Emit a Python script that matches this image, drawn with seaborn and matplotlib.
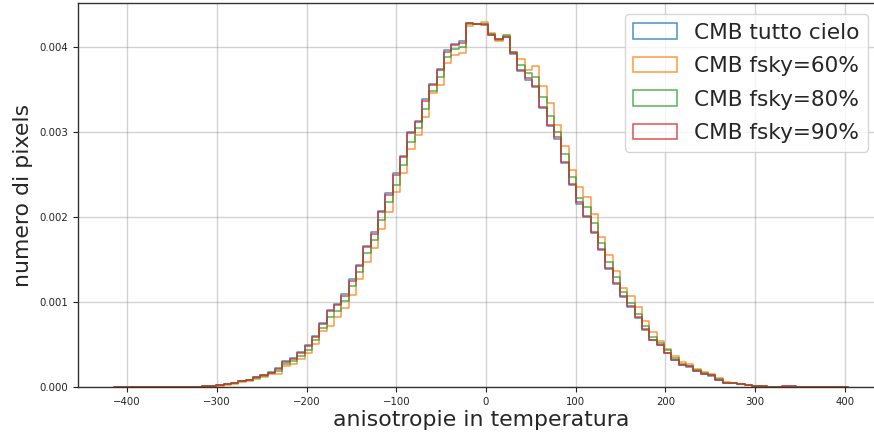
import numpy as np
import pandas as pd
import matplotlib
matplotlib.use("Agg")
import matplotlib.pyplot as plt
from matplotlib.patches import Patch
import seaborn as sns

# bin layout (100 bins)
bin_start = -415.0
bin_width = 8.18
n_bins = 100

labels = ["CMB tutto cielo", "CMB fsky=60%", "CMB fsky=80%", "CMB fsky=90%"]
colors = ["#1f77b4", "#ff7f0e", "#2ca02c", "#d62728"]

full_sky = [
    0, 0, 0, 0, 0.000001, 0.000001, 0.000001, 0.000001, 0.000002, 0.000002,
    0.000003, 0.000005, 0.000008, 0.000012, 0.000021, 0.000033, 0.000052, 0.000073, 0.000085, 0.000122,
    0.000141, 0.000174, 0.000218, 0.000301, 0.000338, 0.000410, 0.000490, 0.000595, 0.000752, 0.000902,
    0.000975, 0.001090, 0.001268, 0.001440, 0.001662, 0.001820, 0.002075, 0.002280, 0.002515, 0.002722,
    0.003005, 0.003135, 0.003390, 0.003572, 0.003750, 0.003965, 0.004045, 0.004075, 0.004290, 0.004280,
    0.004270, 0.004145, 0.004090, 0.004120, 0.003920, 0.003720, 0.003620, 0.003530, 0.003285, 0.003070,
    0.002925, 0.002640, 0.002378, 0.002160, 0.002005, 0.001810, 0.001610, 0.001395, 0.001218, 0.001062,
    0.000945, 0.000812, 0.000670, 0.000550, 0.000492, 0.000398, 0.000317, 0.000259, 0.000240, 0.000185,
    0.000155, 0.000135, 0.000085, 0.000050, 0.000046, 0.000038, 0.000024, 0.000012, 0.000008, 0.000004,
    0.000002, 0.000006, 0.000006, 0, 0, 0, 0, 0, 0, 0,
]

fsky_60 = [
    0, 0, 0, 0, 0, 0, 0.000001, 0.000001, 0.000002, 0.000002,
    0.000003, 0.000004, 0.000006, 0.000010, 0.000015, 0.000025, 0.000040, 0.000060, 0.000070, 0.000100,
    0.000120, 0.000150, 0.000158, 0.000249, 0.000269, 0.000328, 0.000395, 0.000506, 0.000656, 0.000723,
    0.000820, 0.000930, 0.001080, 0.001270, 0.001468, 0.001633, 0.001856, 0.002064, 0.002300, 0.002516,
    0.002799, 0.002967, 0.003183, 0.003458, 0.003556, 0.003812, 0.003910, 0.003937, 0.004255, 0.004275,
    0.004302, 0.004173, 0.004080, 0.004133, 0.003941, 0.003859, 0.003733, 0.003784, 0.003545, 0.003340,
    0.003085, 0.002842, 0.002555, 0.002359, 0.002233, 0.002037, 0.001770, 0.001554, 0.001366, 0.001169,
    0.001071, 0.000941, 0.000776, 0.000647, 0.000541, 0.000451, 0.000361, 0.000294, 0.000267, 0.000216,
    0.000176, 0.000157, 0.000106, 0.000055, 0.000050, 0.000040, 0.000026, 0.000013, 0.000008, 0.000004,
    0.000002, 0.000004, 0.000004, 0, 0, 0, 0, 0, 0, 0,
]

fsky_80 = [
    0, 0, 0, 0, 0.000001, 0.000001, 0.000001, 0.000001, 0.000002, 0.000002,
    0.000003, 0.000005, 0.000007, 0.000011, 0.000018, 0.000030, 0.000047, 0.000066, 0.000078, 0.000110,
    0.000130, 0.000160, 0.000190, 0.000270, 0.000310, 0.000370, 0.000440, 0.000550, 0.000700, 0.000820,
    0.000900, 0.001010, 0.001190, 0.001360, 0.001580, 0.001730, 0.001970, 0.002180, 0.002380, 0.002620,
    0.002890, 0.003050, 0.003280, 0.003490, 0.003650, 0.003890, 0.003980, 0.004000, 0.004270, 0.004270,
    0.004280, 0.004160, 0.004100, 0.004145, 0.003940, 0.003792, 0.003702, 0.003647, 0.003411, 0.003191,
    0.002999, 0.002744, 0.002477, 0.002221, 0.002115, 0.001927, 0.001691, 0.001468, 0.001299, 0.001114,
    0.000993, 0.000860, 0.000714, 0.000588, 0.000522, 0.000431, 0.000345, 0.000275, 0.000251, 0.000200,
    0.000165, 0.000146, 0.000095, 0.000053, 0.000048, 0.000040, 0.000025, 0.000012, 0.000008, 0.000004,
    0.000002, 0.000005, 0.000005, 0, 0, 0, 0, 0, 0, 0,
]

fsky_90 = [
    0, 0, 0, 0, 0.000001, 0.000001, 0.000001, 0.000001, 0.000002, 0.000002,
    0.000003, 0.000005, 0.000008, 0.000012, 0.000020, 0.000032, 0.000051, 0.000071, 0.000083, 0.000119,
    0.000138, 0.000170, 0.000213, 0.000296, 0.000332, 0.000403, 0.000482, 0.000585, 0.000743, 0.000893,
    0.000962, 0.001075, 0.001252, 0.001424, 0.001644, 0.001801, 0.002057, 0.002261, 0.002496, 0.002704,
    0.002987, 0.003117, 0.003372, 0.003556, 0.003733, 0.003949, 0.004024, 0.004047, 0.004283, 0.004275,
    0.004267, 0.004145, 0.004094, 0.004126, 0.003929, 0.003733, 0.003635, 0.003545, 0.003301, 0.003085,
    0.002940, 0.002653, 0.002390, 0.002174, 0.002017, 0.001821, 0.001620, 0.001405, 0.001228, 0.001071,
    0.000953, 0.000820, 0.000678, 0.000557, 0.000498, 0.000404, 0.000322, 0.000263, 0.000243, 0.000188,
    0.000157, 0.000137, 0.000086, 0.000051, 0.000047, 0.000039, 0.000024, 0.000012, 0.000008, 0.000004,
    0.000002, 0.000006, 0.000006, 0, 0, 0, 0, 0, 0, 0,
]

series = [full_sky, fsky_60, fsky_80, fsky_90]

bin_end = bin_start + bin_width * n_bins
centers = bin_start + bin_width * (np.arange(n_bins) + 0.5)

sns.set_style("ticks")
plt.rcParams["font.family"] = ["DejaVu Sans"]

W, H = 874, 437
fig, ax = plt.subplots(figsize=(W / 100, H / 100), dpi=100)
fig.subplots_adjust(left=78 / W, right=884 / W, top=1 - 3 / H, bottom=1 - 387 / H)

for vals, col in zip(series, colors):
    df = pd.DataFrame({"t": centers, "w": vals})
    sns.histplot(data=df, x="t", weights="w", bins=n_bins, binrange=(bin_start, bin_end),
                 element="step", fill=False, stat="count", color=col, alpha=0.8,
                 linewidth=1.1, ax=ax)

ax.set_xlim(-454.8, 443.6)
ax.set_ylim(0, 0.004523)
ax.set_xticks([-400, -300, -200, -100, 0, 100, 200, 300, 400])
ax.set_yticks([0, 0.001, 0.002, 0.003, 0.004])
ax.yaxis.set_major_formatter(matplotlib.ticker.FormatStrFormatter("%.3f"))
ax.tick_params(labelsize=7.3, length=3.5, width=0.8, colors="#222222")
ax.grid(True, color="gray", alpha=0.35, linewidth=1.0)
for s in ax.spines.values():
    s.set_color("#333333")
    s.set_linewidth(1.0)

ax.set_xlabel("anisotropie in temperatura", fontsize=15.8, labelpad=2)
ax.set_ylabel("numero di pixels", fontsize=15.8, labelpad=5)

handles = [Patch(facecolor="none", edgecolor=c, alpha=0.8, linewidth=1.1) for c in colors]
ax.legend(handles, labels, loc="upper right", fontsize=15.6, frameon=True,
          labelspacing=0.62, borderaxespad=0.0,
          bbox_to_anchor=(868 / W, 1 - 14 / H), bbox_transform=fig.transFigure)

fig.savefig("out.png", dpi=100)
